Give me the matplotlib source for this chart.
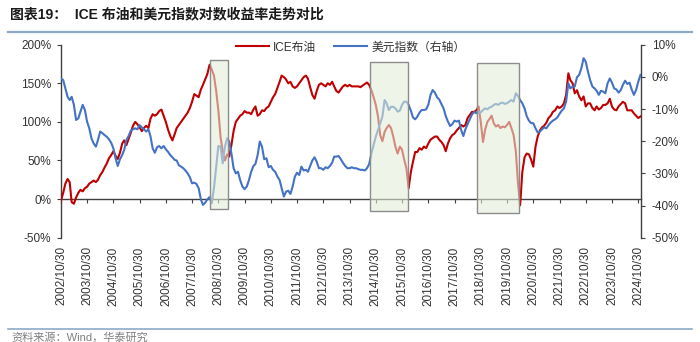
import matplotlib
matplotlib.use("Agg")
import matplotlib.pyplot as plt
from matplotlib.patches import Rectangle
from matplotlib.lines import Line2D
from matplotlib.ticker import FuncFormatter, MultipleLocator
import pandas as pd

# ---- data: monthly observations, Oct 2002 - Nov 2024 ----
start_date = "2002-10-30"
n_months = 266

# ICE Brent cumulative log return (%), left axis
brent = [
    -2, 8, 20, 26, 22, -4, -6, 2, 8, 12, 10, 14,
    16, 20, 22, 24, 22, 25, 31, 35, 41, 46, 53, 57,
    62, 56, 52, 60, 72, 76, 70, 78, 86, 95, 100, 97,
    93, 88, 92, 95, 92, 104, 110, 108, 110, 114, 116, 108,
    100, 90, 82, 76, 84, 92, 96, 100, 104, 108, 112, 118,
    126, 136, 134, 132, 142, 148, 155, 162, 174, 168, 160, 140,
    115, 80, 62, 50, 58, 55, 70, 88, 100, 104, 108, 110,
    114, 112, 112, 110, 116, 120, 108, 110, 115, 114, 118, 120,
    126, 132, 136, 144, 152, 160, 158, 155, 150, 152, 146, 144,
    146, 150, 154, 158, 160, 156, 145, 135, 130, 140, 148, 150,
    148, 146, 150, 148, 152, 146, 140, 138, 142, 146, 148, 146,
    148, 146, 146, 146, 146, 145, 147, 149, 151, 148, 141, 132,
    122, 107, 83, 75, 87, 92, 96, 92, 81, 68, 59, 68,
    64, 51, 40, 14, 35, 48, 61, 61, 66, 64, 68, 66,
    72, 77, 79, 81, 81, 77, 74, 70, 62, 72, 79, 83,
    85, 89, 92, 96, 94, 96, 105, 109, 113, 113, 115, 120,
    100, 74, 90, 100, 104, 108, 98, 94, 96, 92, 94, 93,
    96, 100, 92, 83, 62, 22, -8, 35, 54, 59, 58, 51,
    42, 68, 81, 89, 93, 95, 99, 105, 108, 113, 115, 120,
    118, 120, 124, 135, 163, 154, 150, 137, 141, 133, 128, 133,
    120, 124, 124, 118, 115, 120, 116, 118, 122, 122, 124, 130,
    120, 116, 115, 120, 123, 126, 124, 115, 115, 115, 111, 108,
    105, 107,
]

# US dollar index cumulative log return (%), right axis
usd = [
    -0.5, -1.0, -3.6, -6.2, -7.2, -6.2, -8.7, -13.4, -12.9, -10.8, -8.7, -10.3,
    -13.9, -16.0, -19.1, -20.7, -21.7, -19.6, -17.0, -17.5, -18.1, -18.6, -19.4, -20.5,
    -22.2, -25.3, -27.7, -25.6, -24.3, -22.7, -19.6, -18.4, -16.7, -16.3, -16.0, -16.3,
    -15.0, -15.7, -16.3, -17.0, -16.3, -18.4, -22.2, -23.6, -21.9, -21.5, -22.2, -21.5,
    -22.5, -23.3, -24.3, -25.0, -25.8, -26.0, -27.5, -27.9, -28.4, -29.1, -30.0, -31.2,
    -33.1, -32.9, -33.3, -34.6, -38.1, -39.8, -39.1, -38.1, -37.4, -39.3, -34.6, -27.9,
    -21.5, -21.7, -26.9, -21.7, -19.1, -20.1, -23.8, -28.4, -30.0, -29.5, -32.1, -34.1,
    -34.9, -34.1, -32.1, -29.5, -27.7, -27.1, -24.3, -20.1, -21.7, -25.6, -25.3, -28.1,
    -27.7, -28.9, -29.5, -31.0, -32.1, -34.6, -37.2, -35.7, -35.4, -36.4, -34.1, -31.0,
    -29.8, -30.5, -27.9, -29.1, -28.9, -29.5, -27.7, -26.0, -25.0, -26.4, -28.4, -28.4,
    -28.9, -28.1, -28.4, -27.7, -26.7, -24.8, -24.8, -24.6, -25.6, -26.7, -27.7, -28.4,
    -28.4, -28.1, -28.4, -28.4, -28.7, -28.9, -28.9, -29.1, -28.4, -27.1, -23.8, -21.2,
    -18.6, -16.5, -14.4, -12.4, -7.2, -8.2, -10.3, -9.3, -9.3, -9.8, -10.8, -10.5,
    -8.7, -7.7, -7.7, -8.7, -10.5, -12.6, -13.2, -12.4, -11.1, -10.3, -10.3, -10.1,
    -8.7, -5.6, -4.1, -4.9, -6.4, -7.0, -8.4, -9.8, -12.2, -13.9, -15.3, -14.7,
    -13.6, -13.9, -13.6, -16.5, -18.4, -16.3, -14.7, -13.2, -11.7, -10.9, -11.3, -10.8,
    -11.1, -10.3, -9.8, -10.1, -9.5, -9.3, -8.7, -8.4, -8.7, -8.2, -8.0, -8.4,
    -8.2, -7.7, -7.2, -7.7, -5.1, -5.9, -7.2, -8.2, -9.8, -12.2, -13.6, -14.4,
    -14.4, -16.0, -17.3, -17.0, -16.3, -15.7, -16.0, -15.0, -14.2, -13.6, -13.2, -12.6,
    -11.5, -10.5, -9.8, -7.7, -2.0, -3.6, -3.0, -3.0, -0.1, 0.6, 2.7, 5.8,
    4.7, 1.6, -1.0, -3.0, -3.6, -4.3, -5.6, -4.3, -4.6, -5.1, -2.0, -0.5,
    -1.8, -3.6, -3.9, -4.9, -4.1, -2.5, -1.2, -2.2, -1.8, -3.9, -5.6, -4.1,
    -1.5, 0.6,
]

# highlighted periods (dollar up, oil down)
box_start = ["2008-07-10", "2014-08-05", "2018-09-01"]
box_end = ["2009-03-15", "2016-01-25", "2020-04-10"]
box_top = [180, 177, 176]
box_bottom = [-13, -15, -18]

tick_years = list(range(2002, 2025))
tick_labels = [f"{y}/10/30" for y in tick_years]

series_names = ["ICE布油", "美元指数（右轴）"]
title_text = "图表19：  ICE 布油和美元指数对数收益率走势对比"
source_text = "资料来源：Wind，华泰研究"

# ---- styling ----
RED = "#C00000"
BLUE = "#4472C4"
AXC = "#404040"
LAT = ["Liberation Sans", "Noto Sans CJK SC"]
plt.rcParams["font.family"] = LAT

dates = pd.date_range(start_date, periods=n_months, freq=pd.DateOffset(months=1))
tick_pos = [pd.Timestamp(f"{y}-10-30") for y in tick_years]

fig = plt.figure(figsize=(7.0, 3.42), dpi=100)
ax = fig.add_axes([0.0871, 0.3050, 0.8279, 0.5643])
ax2 = ax.twinx()

l1, = ax.plot(dates, brent, color=RED, lw=1.5, zorder=3)
l2, = ax2.plot(dates, usd, color=BLUE, lw=1.5, zorder=3)

ax.set_xlim(dates[0], dates[-1])
ax.set_ylim(-50, 200)
ax2.set_ylim(-50, 10)
ax.yaxis.set_major_locator(MultipleLocator(50))
ax2.yaxis.set_major_locator(MultipleLocator(10))
pct = FuncFormatter(lambda v, p: f"{v:.0f}%")
ax.yaxis.set_major_formatter(pct)
ax2.yaxis.set_major_formatter(pct)

for a in (ax, ax2):
    a.spines["top"].set_visible(False)
    a.patch.set_visible(False)
ax2.spines["bottom"].set_visible(False)
ax2.spines["left"].set_visible(False)
ax.spines["right"].set_visible(False)
ax.spines["bottom"].set_position(("data", 0))
for s in ("left", "bottom"):
    ax.spines[s].set_color(AXC)
    ax.spines[s].set_linewidth(1.0)
ax2.spines["right"].set_color(AXC)
ax2.spines["right"].set_linewidth(1.0)

ax.set_xticks(tick_pos)
ax.set_xticklabels(tick_labels, rotation=90)
ax.tick_params(axis="x", direction="out", length=3, width=0.8, color=AXC,
               labelsize=8.5, labelcolor="#333333", pad=31)
ax.tick_params(axis="y", direction="out", length=3, width=0.8, color=AXC,
               labelsize=8.5, labelcolor="#333333", pad=4)
ax2.tick_params(axis="y", direction="out", length=3, width=0.8, color=AXC,
                labelsize=8.5, labelcolor="#333333", pad=5)

# shaded periods, drawn over both lines
for s, e, t, b in zip(box_start, box_end, box_top, box_bottom):
    x0 = pd.Timestamp(s)
    x1 = pd.Timestamp(e)
    ax2.add_patch(Rectangle((x0, b), x1 - x0, t - b, transform=ax.transData,
                            facecolor="#E2EED8", alpha=0.58, edgecolor="none",
                            zorder=5))
    ax2.add_patch(Rectangle((x0, b), x1 - x0, t - b, transform=ax.transData,
                            facecolor="none", edgecolor="#8C8C8C", lw=1.0,
                            zorder=6))

leg = ax2.legend([l1, l2], series_names, loc="center", ncol=2,
                 bbox_to_anchor=(0.5, 0.985), frameon=False, fontsize=8.5,
                 handlelength=2.8, columnspacing=1.5, handletextpad=0.4)
for txt in leg.get_texts():
    txt.set_color("#333333")

fig.text(0.014, 0.958, title_text, fontsize=10, fontweight="bold",
         color="#1A1A1A", va="center", ha="left")
fig.add_artist(Line2D([0.012, 0.988], [0.906, 0.906], color="#8EA9C8",
                      lw=1.6, transform=fig.transFigure))
fig.add_artist(Line2D([0.012, 0.988], [0.038, 0.038], color="#8EA9C8",
                      lw=1.2, transform=fig.transFigure))
fig.text(0.016, 0.013, source_text, fontsize=8, color="#7F7F7F",
         va="center", ha="left")

fig.savefig("out.png", dpi=100)
